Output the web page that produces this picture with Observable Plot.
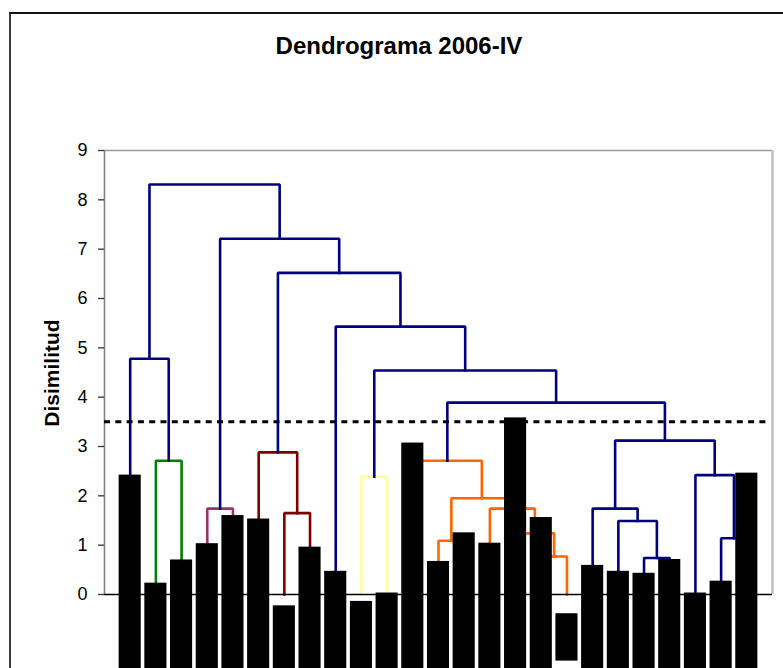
<!DOCTYPE html>
<html><head><meta charset="utf-8">
<script src="https://cdn.jsdelivr.net/npm/d3@7"></script>
<script src="https://cdn.jsdelivr.net/npm/@observablehq/plot@0.6"></script>
<style>
html,body{margin:0;padding:0;background:#fff;overflow:hidden}
#frame{position:absolute;left:9px;top:12px;width:900px;height:800px;border-left:2px solid #3a3a3a;border-top:2px solid #111;}
#title{position:absolute;left:0;width:798px;top:32px;text-align:center;font:bold 24px "Liberation Sans",Arial,sans-serif;}
#ylabel{position:absolute;left:52px;top:373px;transform:translate(-50%,-50%) rotate(-90deg);font:bold 21px "Liberation Sans",Arial,sans-serif;white-space:nowrap}
#chart{position:absolute;left:0;top:0}
</style></head><body>
<div id="frame"></div>
<div id="title">Dendrograma 2006-IV</div>
<div id="ylabel">Disimilitud</div>
<div id="chart"></div>
<script>
// leaves (in dendrogram order)
const leafIds = [1,2,3,4,5,6,7,8,9,10,11,12,13,14,15,16,17,18,19,20,21,22,23,24,25];
// black bars: top and bottom values
const barTops = [2.42,0.23,0.70,1.03,1.60,1.53,-0.23,0.96,0.47,-0.14,0.03,3.07,0.67,1.25,1.04,3.58,1.56,-0.39,0.59,0.47,0.43,0.71,0.03,0.27,2.46];
const barBottoms = [-2,-2,-2,-2,-2,-2,-2,-2,-2,-2,-2,-2,-2,-2,-2,-2,-2,-1.35,-2,-2,-2,-2,-2,-2,-2];
// merges: children, height, colour
const mergeChildren = [
  ["L17","L18"], ["L21","L22"], ["L13","L14"], ["L24","L25"], ["L16","M0"], ["L20","M1"],
  ["L7","L8"], ["L15","M4"], ["L4","L5"], ["L19","M5"], ["M2","M7"], ["L10","L11"],
  ["L23","M3"], ["L12","M10"], ["L2","L3"], ["L6","M6"], ["M9","M12"], ["M13","M16"],
  ["M11","M17"], ["L1","M14"], ["L9","M18"], ["M15","M20"], ["M8","M21"], ["M19","M22"]
];
const mergeHeights = [0.77,0.74,1.09,1.14,1.24,1.49,1.65,1.74,1.74,1.74,1.95,2.39,2.42,2.71,2.71,2.88,3.12,3.89,4.54,4.78,5.43,6.52,7.21,8.31];
const mergeColors = ["#FF6600","#000080","#FF6600","#000080","#FF6600","#000080","#800000","#FF6600","#993366","#000080","#FF6600","#FFFF99","#000080","#FF6600","#008000","#800000","#000080","#000080","#000080","#000080","#000080","#000080","#000080","#000080"];
const cutLevel = 3.5;
const yTicks = [0,1,2,3,4,5,6,7,8,9];

// dendrogram layout: leaf at its index, merge at midpoint of children
const pos = {};
leafIds.forEach(i => pos["L" + i] = {x: i, h: 0});
mergeChildren.forEach(([a, b], k) => {
  pos["M" + k] = {x: (pos[a].x + pos[b].x) / 2, h: mergeHeights[k]};
});
const segs = [];
mergeChildren.forEach(([a, b], k) => {
  const h = mergeHeights[k], c = mergeColors[k];
  [[pos[a].x, pos[a].h], [pos[a].x, h], [pos[b].x, h], [pos[b].x, pos[b].h]]
    .forEach(([x, y]) => segs.push({id: k, x, y, c}));
});
const bars = leafIds.map((id, i) => ({id, top: barTops[i], bottom: barBottoms[i]}));

const chart = Plot.plot({
  width: 783, height: 720,
  marginLeft: 104, marginRight: 11, marginTop: 150, marginBottom: 126,
  x: {domain: [0, 26], axis: null},
  y: {domain: [0, 9], axis: null},
  color: {type: "identity"},
  style: {fontFamily: "'Liberation Sans', Arial, sans-serif", fontSize: "18px", background: "transparent", overflow: "visible"},
  marks: [
    Plot.ruleY([9], {stroke: "#999", strokeWidth: 1.3}),
    Plot.ruleX([26], {y1: 0, y2: 9, stroke: "#c0c0c0", strokeWidth: 2.5}),
    Plot.ruleX([0], {y1: 0, y2: 9, stroke: "#808080", strokeWidth: 1.6}),
    Plot.axisY(yTicks, {tickSize: 6, tickPadding: 11, stroke: "#333", strokeWidth: 1.3, fill: "#000", fontSize: 18, label: null}),
    Plot.line(segs, {x: "x", y: "y", z: "id", stroke: "c", strokeWidth: 2.6, strokeLinejoin: "miter", strokeLinecap: "square"}),
    Plot.ruleY([0], {stroke: "#000", strokeWidth: 1.5}),
    Plot.ruleY([cutLevel], {x1: 0, x2: 25.85, stroke: "#000", strokeWidth: 3, strokeDasharray: "6,5.3"}),
    Plot.rect(bars, {x1: d => d.id - 0.43, x2: d => d.id + 0.43, y1: "bottom", y2: "top", fill: "#000"})
  ]
});
document.getElementById("chart").append(chart);
</script>
</body></html>
